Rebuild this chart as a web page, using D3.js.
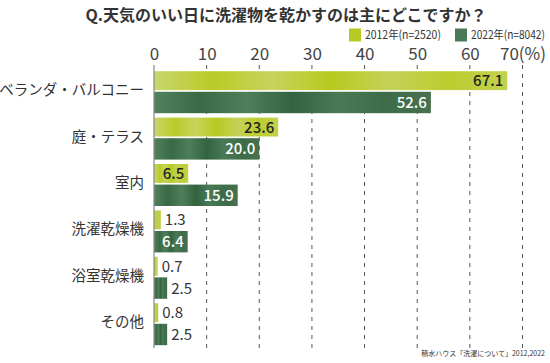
<!DOCTYPE html>
<html><head><meta charset="utf-8">
<script src="https://cdn.jsdelivr.net/npm/d3@7"></script>
<style>
html,body{margin:0;padding:0;background:#fff;}
svg{display:block;font-family:"Noto Sans CJK JP","Noto Sans",sans-serif;}
</style></head>
<body>
<svg id="chart" width="550" height="363"></svg>
<script>
const categories = ["ベランダ・バルコニー","庭・テラス","室内","洗濯乾燥機","浴室乾燥機","その他"];
const values2012 = [67.1, 23.6, 6.5, 1.3, 0.7, 0.8];
const values2022 = [52.6, 20.0, 15.9, 6.4, 2.5, 2.5];
const seriesNames = ["2012年(n=2520)", "2022年(n=8042)"];
const tickValues = [0,10,20,30,40,50,60,70];
const tickLabels = ["0","10","20","30","40","50","60","70(%)"];
const titleText = "Q.天気のいい日に洗濯物を乾かすのは主にどこですか？";
const sourceText = "積水ハウス「洗濯について」2012,2022";

const svg = d3.select("#chart");
const defs = svg.append("defs");

function grad(id, stops){
  const g = defs.append("linearGradient").attr("id", id).attr("x1","0%").attr("x2","100%").attr("y1","0%").attr("y2","0%");
  stops.forEach((c,i)=>g.append("stop").attr("offset", (i/(stops.length-1)*100)+"%").attr("stop-color", c));
}
grad("gLight", ["#c9d66e","#b9cb27","#c6d45c","#b7ca1f","#c3d257","#bccd30","#c2d14e"]);
grad("gDark",  ["#52825d","#3a6a45","#4f7f5a","#33633f","#4a7a55","#3d6d48","#486f4f"]);

const x = d3.scaleLinear().domain([0,70]).range([154, 522.5]);
const y = d3.scaleBand().domain(categories).range([69, 347.4]).paddingInner(0.095).paddingOuter(0.0475);

// title
svg.append("text").attr("x", 286).attr("y", 20.5).attr("text-anchor","middle")
  .attr("font-size", 16).attr("font-weight", "bold").attr("fill", "#333").text(titleText);

// legend
const legendColors = ["#b7c923", "#4b7a56"];
const legendX = [349, 455];
const legendW = [76, 74];
seriesNames.forEach((n,i)=>{
  svg.append("rect").attr("x", legendX[i]).attr("y", 28.5).attr("width", 12).attr("height", 13).attr("fill", legendColors[i]);
  const t = svg.append("text").attr("x", 0).attr("y", 0).attr("font-size", 11.5).attr("fill", "#333").text(n);
  const w = t.node().getComputedTextLength();
  const sx = Math.min(1, legendW[i] / w);
  t.attr("transform", `translate(${legendX[i]+16},38.5) scale(${sx},1)`);
});

// gridlines
const gridTop = 65, gridBottom = 348;
svg.append("g").selectAll("line").data(tickValues.slice(1)).join("line")
  .attr("x1", d=>x(d)).attr("x2", d=>x(d)).attr("y1", gridTop).attr("y2", gridBottom)
  .attr("stroke", "#555").attr("stroke-width", 1).attr("stroke-dasharray", "4,5");

// top axis tick labels
const axis = d3.axisTop(x).tickValues(tickValues).tickFormat((d,i)=>tickLabels[i]).tickSize(0).tickPadding(0);
const ag = svg.append("g").attr("transform", `translate(0,60)`).call(axis);
ag.select(".domain").remove();
ag.selectAll("text").attr("font-size", 17).attr("fill", "#444")
  .attr("font-family", '"Noto Sans CJK JP","Noto Sans",sans-serif').attr("dy", 0);

// bars
const bw = y.bandwidth();
const h1 = bw*0.45, gap = bw*0.04, h2 = bw - h1 - gap;
const rows = categories.map((c,i)=>({c, v1: values2012[i], v2: values2022[i]}));

const g = svg.append("g");
g.selectAll("rect.b1").data(rows).join("rect").attr("class","b1")
  .attr("x", x(0)).attr("y", d=>y(d.c)).attr("width", d=>x(d.v1)-x(0)).attr("height", h1)
  .attr("fill", "url(#gLight)");
g.selectAll("rect.b2").data(rows).join("rect").attr("class","b2")
  .attr("x", x(0)).attr("y", d=>y(d.c)+h1+gap).attr("width", d=>x(d.v2)-x(0)).attr("height", h2)
  .attr("fill", "url(#gDark)");

// value labels
function addLabels(cls, key, yOff, h, insideColor){
  g.selectAll("text."+cls).data(rows).join("text").attr("class", cls)
    .each(function(d){
      const v = d[key];
      const inside = v >= 5;
      d3.select(this)
        .attr("x", inside ? x(v)-4 : x(v)+4)
        .attr("text-anchor", inside ? "end" : "start")
        .attr("fill", inside ? insideColor : "#333")
        .attr("font-weight", inside ? "500" : "400");
    })
    .attr("y", d=>y(d.c)+yOff+h/2+5.5)
    .attr("font-size", 15)
    .text(d=>d[key].toFixed(1));
}
addLabels("l1", "v1", 0, h1, "#222");
addLabels("l2", "v2", h1+gap, h2, "#fff");

// left axis line
svg.append("line").attr("x1", x(0)).attr("x2", x(0)).attr("y1", gridTop).attr("y2", gridBottom)
  .attr("stroke", "#888").attr("stroke-width", 1.2);

// category labels
svg.append("g").selectAll("text").data(categories).join("text")
  .attr("x", 144).attr("y", d=>y(d)+bw/2+3).attr("text-anchor","end")
  .attr("font-size", 14.5).attr("fill", "#333").text(d=>d);

// source
svg.append("text").attr("x", 545).attr("y", 356).attr("text-anchor","end")
  .attr("font-size", 7).attr("fill", "#333").text(sourceText);
</script>
</body></html>
